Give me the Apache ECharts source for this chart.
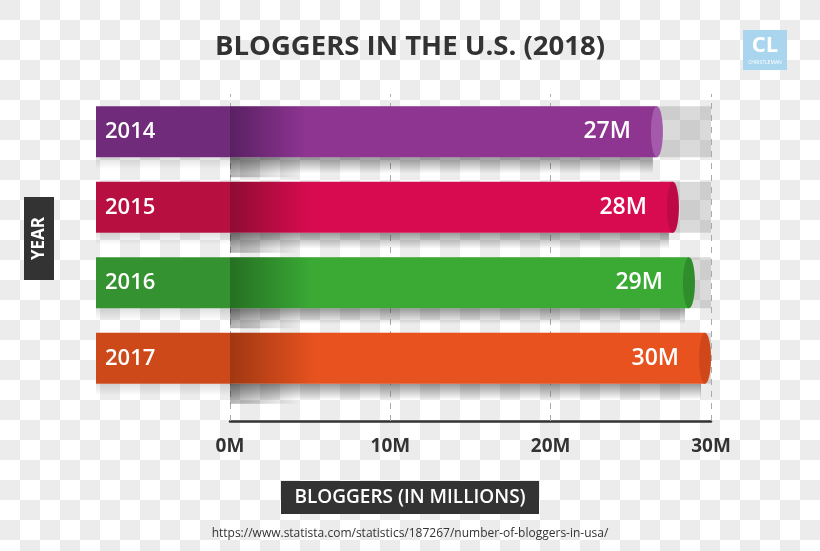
<!DOCTYPE html>
<html>
<head>
<meta charset="utf-8">
<script src="https://cdn.jsdelivr.net/npm/echarts@6/dist/echarts.min.js"></script>
<style>
  html, body { margin: 0; padding: 0; }
  body {
    width: 820px; height: 551px; overflow: hidden;
    background-color: #fff;
    background-image: conic-gradient(#fff 0 25%, #ececec 0 50%, #fff 0 75%, #ececec 0);
    background-size: 40px 40px;
  }
  #chart { width: 820px; height: 551px; }
</style>
</head>
<body>
<div id="chart"></div>
<script>
// ---- data ----
const categories = ['2014', '2015', '2016', '2017'];
const values = [27, 28, 29, 30];
const valueLabels = ['27M', '28M', '29M', '30M'];
const xTickLabels = ['0M', '10M', '20M', '30M'];
const xMax = 30;

// ---- styles ----
const palette = [
  { left: '#712b7b', dark: '#5a2063', base: '#8e3592', cap: '#a45aab' },
  { left: '#b80f41', dark: '#8f0c33', base: '#d80b50', cap: '#bd0a45' },
  { left: '#349330', dark: '#257022', base: '#3aaa35', cap: '#2f8d2b' },
  { left: '#cd4919', dark: '#a03812', base: '#e8521f', cap: '#d0471a' }
];
const FONT = "'Open Sans', 'Noto Sans', sans-serif";

const chart = echarts.init(document.getElementById('chart'), null, { renderer: 'canvas' });

function renderItem(params, api) {
  const i = params.dataIndex;
  const col = palette[i];
  const v = api.value(0);
  const cat = api.value(1);
  const end = api.coord([v, cat]);
  const zero = api.coord([0, cat]);
  const full = api.coord([xMax, cat]);
  const band = api.size([0, 1])[1];
  const h = band * 0.675;
  const top = end[1] - h / 2;
  const leftX = zero[0] - 134;
  const capRx = 6;
  const barW = end[0] - zero[0];

  return {
    type: 'group',
    children: [
      // background track
      { type: 'rect', shape: { x: zero[0], y: top, width: full[0] - zero[0], height: h },
        style: { fill: 'rgba(150,150,150,0.35)' } },
      // drop shadow below the bar
      { type: 'rect', shape: { x: zero[0], y: top + h, width: barW - 10, height: 16 },
        style: { fill: new echarts.graphic.LinearGradient(0, 0, 0, 1, [
          { offset: 0, color: 'rgba(0,0,0,0.4)' },
          { offset: 1, color: 'rgba(0,0,0,0)' }
        ]) } },
      { type: 'rect', shape: { x: zero[0], y: top + h, width: 70, height: 20 },
        style: { fill: new echarts.graphic.LinearGradient(0, 0, 1, 0, [
          { offset: 0, color: 'rgba(0,0,0,0.3)' },
          { offset: 1, color: 'rgba(0,0,0,0)' }
        ]) } },
      // faint shadow under label segment
      { type: 'rect', shape: { x: leftX, y: top + h, width: 134, height: 12 },
        style: { fill: new echarts.graphic.LinearGradient(0, 0, 0, 1, [
          { offset: 0, color: 'rgba(0,0,0,0.12)' },
          { offset: 1, color: 'rgba(0,0,0,0)' }
        ]) } },
      // label segment
      { type: 'rect', shape: { x: leftX, y: top, width: 134, height: h },
        style: { fill: col.left } },
      // main bar
      { type: 'rect', shape: { x: zero[0], y: top, width: barW - capRx, height: h },
        style: { fill: new echarts.graphic.LinearGradient(0, 0, 1, 0, [
          { offset: 0, color: col.dark },
          { offset: 0.18, color: col.base },
          { offset: 1, color: col.base }
        ]) } },
      // cylinder cap
      { type: 'ellipse', shape: { cx: end[0] - capRx, cy: end[1], rx: capRx, ry: h / 2 },
        style: { fill: col.cap } },
      // year label
      { type: 'text', style: { x: leftX + 9, y: end[1], text: categories[i],
        fill: '#fff', font: '600 22px ' + FONT, align: 'left', verticalAlign: 'middle' } },
      // value label
      { type: 'text', style: { x: end[0] - 32, y: end[1], text: valueLabels[i],
        fill: '#fff', font: '600 23px ' + FONT, align: 'right', verticalAlign: 'middle' } }
    ]
  };
}

chart.setOption({
  backgroundColor: 'transparent',
  animation: false,
  title: {
    text: 'BLOGGERS IN THE U.S. (2018)',
    left: 'center',
    top: 28,
    textStyle: { fontFamily: FONT, fontWeight: 'bold', fontSize: 27.5, color: '#333' }
  },
  grid: { left: 230, right: 109, top: 94, bottom: 155, containLabel: false },
  xAxis: {
    type: 'value', min: 0, max: xMax, interval: 10, offset: 25,
    axisLine: { show: true, lineStyle: { color: '#333', width: 2.5 } },
    axisTick: { show: true, inside: true, length: 327,
      lineStyle: { color: '#aaa', type: [6, 6], width: 1 } },
    splitLine: { show: false },
    axisLabel: { margin: 16, color: '#333', fontSize: 19, fontWeight: 'bold', fontFamily: FONT,
      formatter: (v) => xTickLabels[Math.round(v / 10)] }
  },
  yAxis: {
    type: 'category', data: categories, inverse: true, show: false
  },
  series: [{
    type: 'custom',
    renderItem: renderItem,
    clip: false,
    encode: { x: 0, y: 1 },
    data: categories.map((c, i) => [values[i], c])
  }],
  graphic: [
    // logo
    { type: 'rect', shape: { x: 743, y: 30, width: 44, height: 40 }, style: { fill: '#a9d5ee' } },
    { type: 'text', style: { x: 765, y: 46, text: 'CL', fill: '#fff',
      font: 'bold 22px ' + FONT, align: 'center', verticalAlign: 'middle' } },
    { type: 'text', style: { x: 765, y: 63, text: 'CHRISTLEMAN', fill: '#fff',
      font: '5px ' + FONT, align: 'center', verticalAlign: 'middle' } },
    // YEAR box
    { type: 'rect', shape: { x: 24, y: 197, width: 30, height: 83 }, style: { fill: '#333' } },
    { type: 'text', x: 39, y: 238.5, rotation: Math.PI / 2,
      style: { x: 0, y: 0, text: 'YEAR', fill: '#fff', font: 'bold 17px ' + FONT,
        align: 'center', verticalAlign: 'middle' } },
    // axis title box
    { type: 'rect', shape: { x: 281, y: 481, width: 258, height: 33 }, style: { fill: '#333' } },
    { type: 'text', style: { x: 410, y: 498, text: 'BLOGGERS (IN MILLIONS)', fill: '#fff',
      font: '600 19px ' + FONT, align: 'center', verticalAlign: 'middle' } },
    // source
    { type: 'text', style: { x: 410, y: 534, text: 'https://www.statista.com/statistics/187267/number-of-bloggers-in-usa/',
      fill: '#333', font: '12px ' + FONT, align: 'center', verticalAlign: 'middle' } }
  ]
});
</script>
</body>
</html>
